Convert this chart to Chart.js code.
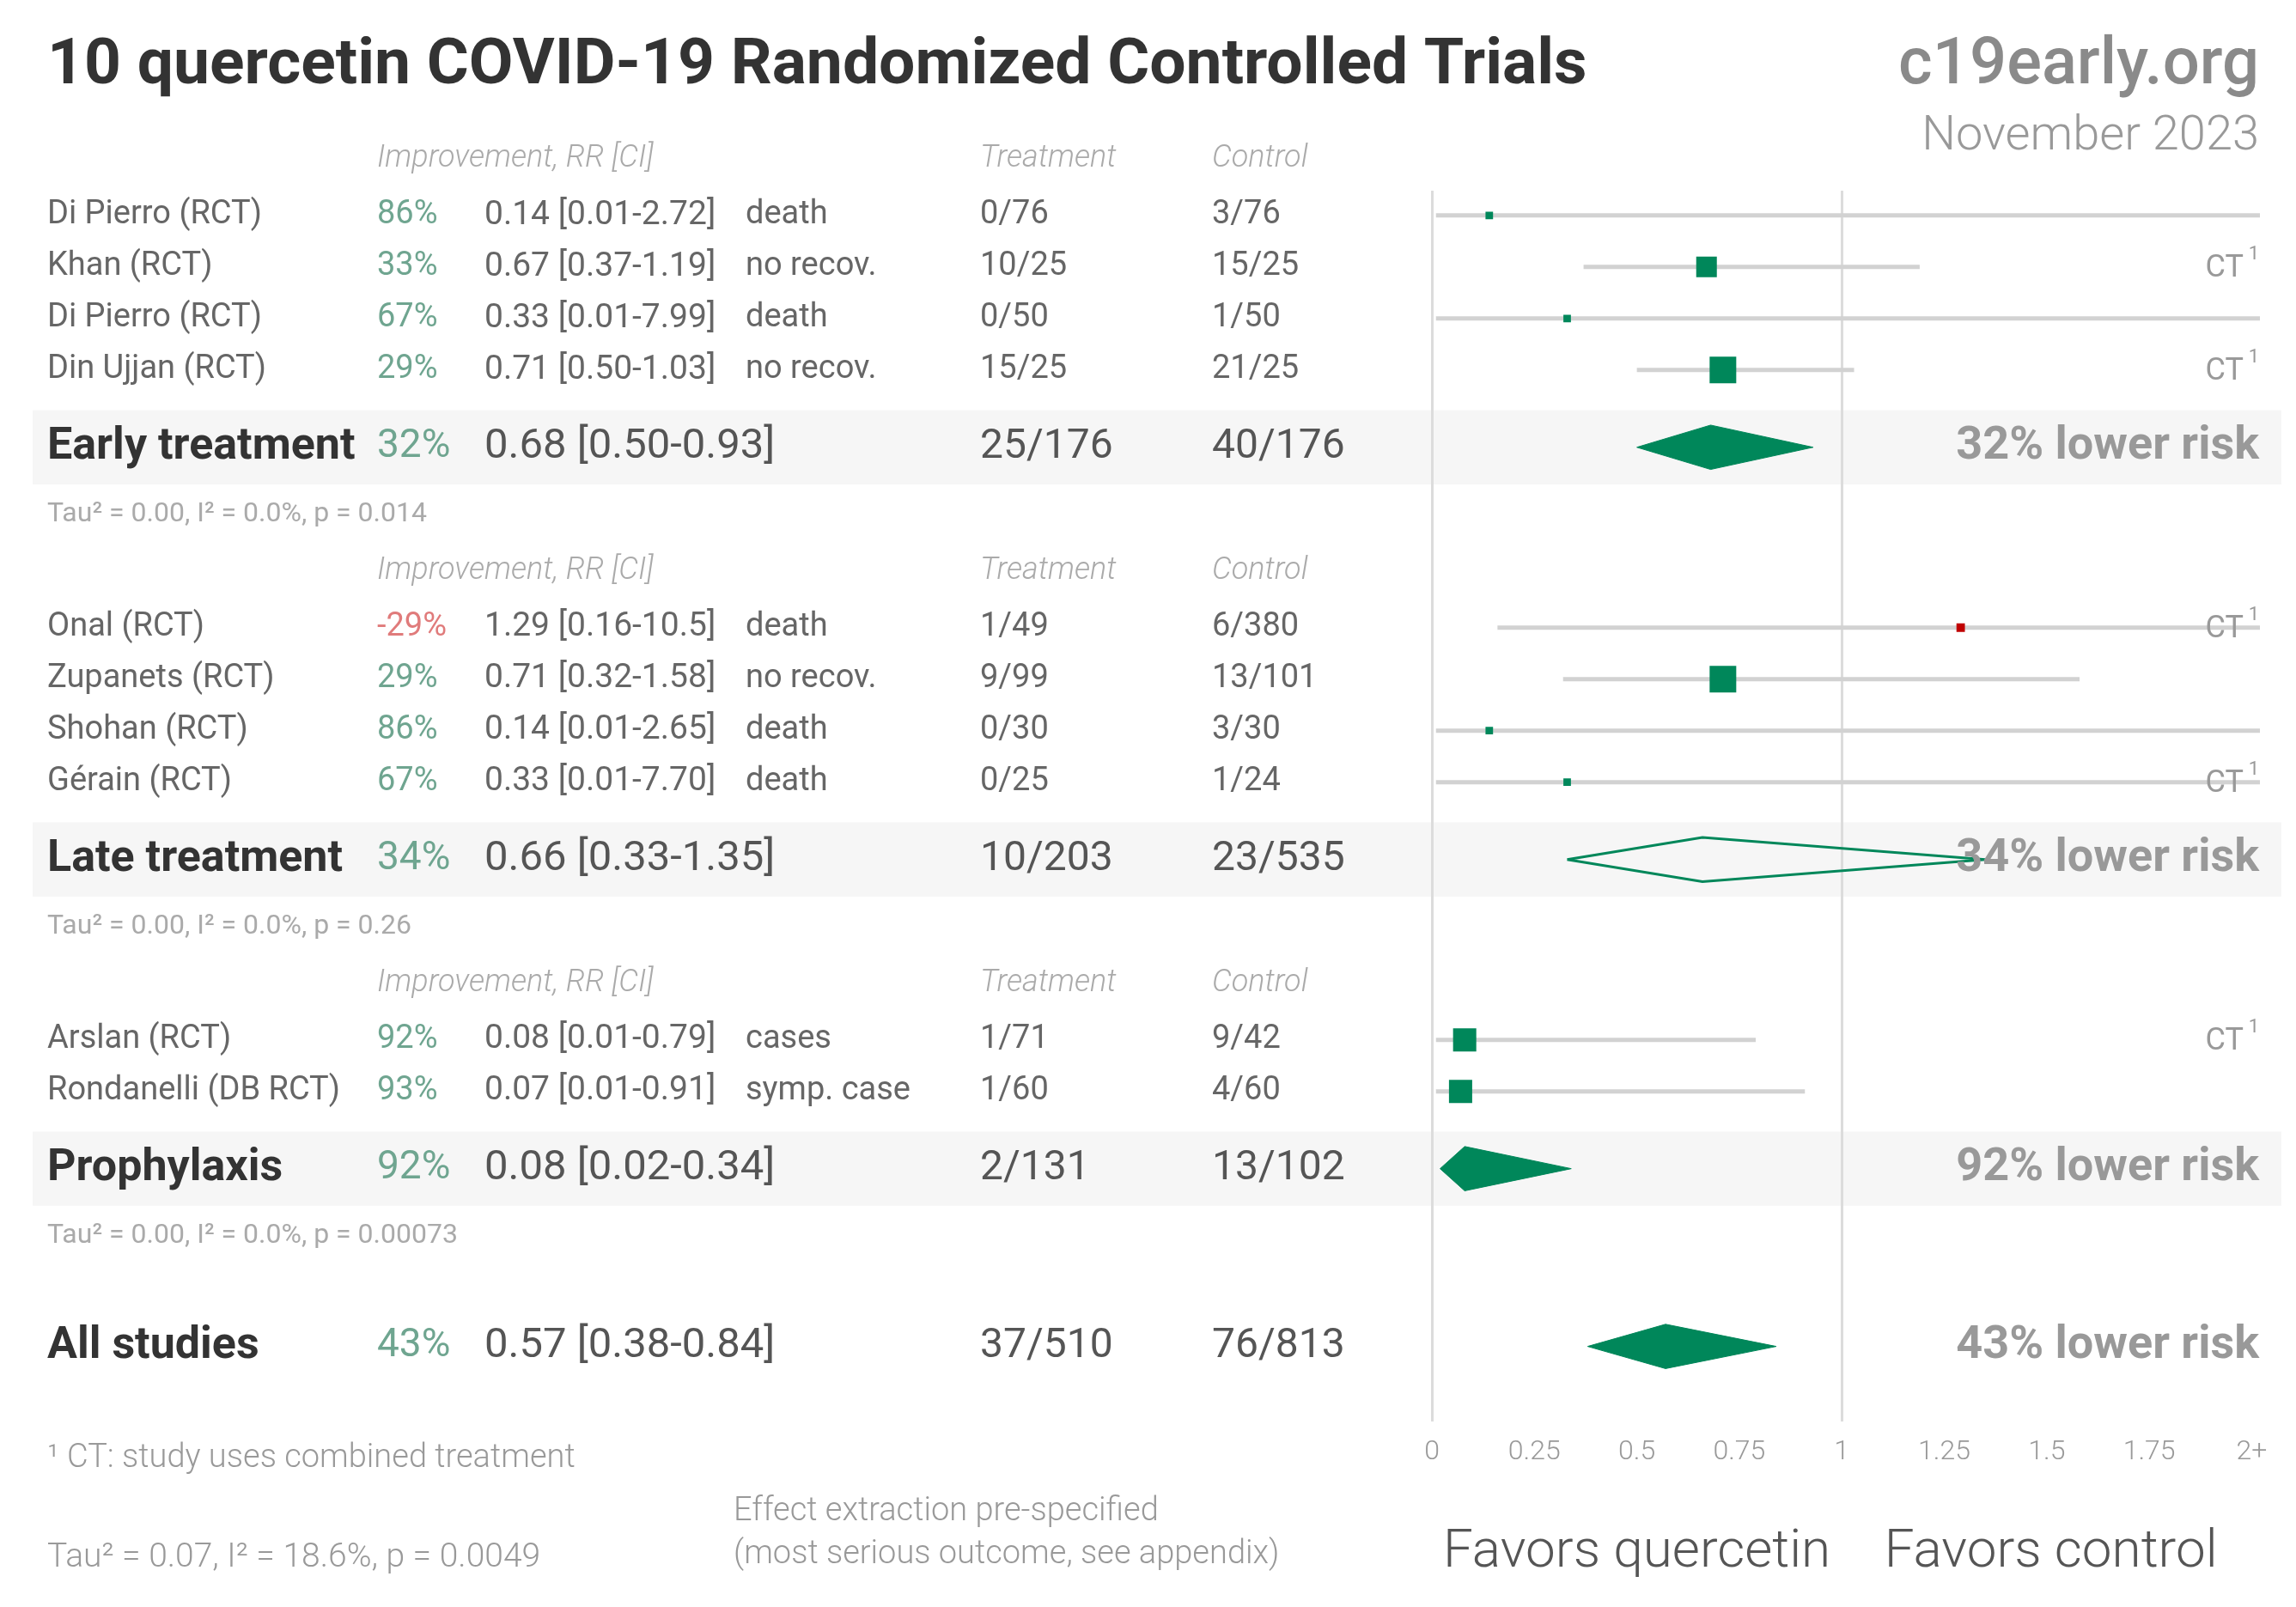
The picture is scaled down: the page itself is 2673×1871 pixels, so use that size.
<!DOCTYPE html>
<html>
<head>
<meta charset="utf-8">
<title>quercetin COVID-19 RCTs</title>
<script src="https://cdn.jsdelivr.net/npm/chart.js@4.4.0/dist/chart.umd.min.js"></script>
<style>
  html, body { margin: 0; padding: 0; background: #fff; }
  canvas { display: block; }
</style>
</head>
<body>
<canvas id="forest" width="2673" height="1871"></canvas>
<script>
//Study data
var studyNames = ['Di Pierro (RCT)', 'Khan (RCT)', 'Di Pierro (RCT)', 'Din Ujjan (RCT)', 'Onal (RCT)', 'Zupanets (RCT)', 'Shohan (RCT)', 'Gérain (RCT)', 'Arslan (RCT)', 'Rondanelli (DB RCT)'];
var studyStage = [0, 0, 0, 0, 1, 1, 1, 1, 2, 2];
var improvement = [86, 33, 67, 29, -29, 29, 86, 67, 92, 93];
var riskRatio = [0.14, 0.67, 0.33, 0.71, 1.29, 0.71, 0.14, 0.33, 0.08, 0.07];
var ciLow = [0.01, 0.37, 0.01, 0.50, 0.16, 0.32, 0.01, 0.01, 0.01, 0.01];
var ciHigh = [2.72, 1.19, 7.99, 1.03, 10.5, 1.58, 2.65, 7.70, 0.79, 0.91];
var outcomes = ['death', 'no recov.', 'death', 'no recov.', 'death', 'no recov.', 'death', 'death', 'cases', 'symp. case'];
var treatmentEvents = ['0/76', '10/25', '0/50', '15/25', '1/49', '9/99', '0/30', '0/25', '1/71', '1/60'];
var controlEvents = ['3/76', '15/25', '1/50', '21/25', '6/380', '13/101', '3/30', '1/24', '9/42', '4/60'];
var combinedTreatment = [false, true, false, true, true, false, false, true, true, false];
var studyWeight = [8, 60, 8, 100, 10, 100, 8, 8, 76, 76];

//Pooled results: early, late, prophylaxis, all
var groupNames = ['Early treatment', 'Late treatment', 'Prophylaxis', 'All studies'];
var groupImprovement = [32, 34, 92, 43];
var groupRR = [0.68, 0.66, 0.08, 0.57];
var groupLow = [0.50, 0.33, 0.02, 0.38];
var groupHigh = [0.93, 1.35, 0.34, 0.84];
var groupTreatment = ['25/176', '10/203', '2/131', '37/510'];
var groupControl = ['40/176', '23/535', '13/102', '76/813'];
var groupStats = ['Tau\u00B2 = 0.00, I\u00B2 = 0.0%, p = 0.014', 'Tau\u00B2 = 0.00, I\u00B2 = 0.0%, p = 0.26', 'Tau\u00B2 = 0.00, I\u00B2 = 0.0%, p = 0.00073'];
var overallStats = 'Tau\u00B2 = 0.07, I\u00B2 = 18.6%, p = 0.0049';

//Axis
var tickValues = [0, 0.25, 0.5, 0.75, 1, 1.25, 1.5, 1.75, 2];
var tickLabels = ['0', '0.25', '0.5', '0.75', '1', '1.25', '1.5', '1.75', '2+'];

//Colours
var green = '#00875a';
var red = '#c00000';
var font = 'Roboto, "Noto Sans", sans-serif';

//Row positions (in row units, top to bottom)
var rowY = [];
var headerY = [];
var groupY = [];
var statsY = [];
var pos = 0;
for (var g = 0; g < 3; g++) {
  headerY.push(pos);
  pos += 0.1;
  for (var i = 0; i < studyNames.length; i++) {
    if (studyStage[i] === g) {
      pos += 1;
      rowY[i] = pos;
    }
  }
  pos += 1.5;
  groupY.push(pos);
  pos += 1.3;
  statsY.push(pos);
  pos += 1.1;
}
groupY.push(statsY[2] + 2.15);

//Datasets (lower order is drawn on top)
var datasets = [];
var diamondHalf = 0.43;
for (var j = 0; j < groupNames.length; j++) {
  var hollow = groupHigh[j] > 1;
  datasets.push({
    type: 'line',
    order: 2,
    data: [
      {x: groupLow[j], y: groupY[j]},
      {x: groupRR[j], y: groupY[j] - diamondHalf},
      {x: groupHigh[j], y: groupY[j]},
      {x: groupRR[j], y: groupY[j] + diamondHalf},
      {x: groupLow[j], y: groupY[j]}
    ],
    borderColor: green,
    borderWidth: hollow ? 3 : 1,
    backgroundColor: hollow ? 'rgba(0,0,0,0)' : green,
    fill: hollow ? false : 'shape',
    pointRadius: 0,
    tension: 0
  });
}
for (var k = 0; k < studyNames.length; k++) {
  datasets.push({
    type: 'line',
    order: 3,
    data: [{x: ciLow[k], y: rowY[k]}, {x: ciHigh[k], y: rowY[k]}],
    borderColor: '#d2d2d2',
    borderWidth: 5,
    pointRadius: 0,
    fill: false
  });
}
datasets.push({
  type: 'scatter',
  order: 1,
  data: riskRatio.map(function(v, n) { return {x: v, y: rowY[n]}; }),
  pointStyle: 'rect',
  pointRadius: studyWeight.map(function(w) { return 31 * Math.sqrt(w / 100) / Math.SQRT2; }),
  backgroundColor: riskRatio.map(function(v) { return v > 1 ? red : green; }),
  borderWidth: 0
});

function txt(ctx, s, x, y, size, color, align, weight, style) {
  ctx.font = (style || 'normal') + ' ' + (weight || 400) + ' ' + size + 'px ' + font;
  ctx.fillStyle = color;
  ctx.textAlign = align || 'left';
  ctx.textBaseline = 'middle';
  ctx.fillText(s, x, y);
}

var bandPlugin = {
  id: 'bands',
  beforeDraw: function(chart) {
    var ctx = chart.ctx;
    var y = chart.scales.y;
    ctx.save();
    ctx.fillStyle = '#fff';
    ctx.fillRect(0, 0, chart.width, chart.height);
    ctx.fillStyle = '#f6f6f6';
    for (var b = 0; b < 3; b++) {
      var top = y.getPixelForValue(groupY[b] - 0.72);
      var bottom = y.getPixelForValue(groupY[b] + 0.72);
      ctx.fillRect(38, top, 2618, bottom - top);
    }
    ctx.restore();
  }
};

var tablePlugin = {
  id: 'table',
  afterDraw: function(chart) {
    var ctx = chart.ctx;
    var y = chart.scales.y;
    ctx.save();

    //Title block
    txt(ctx, '10 quercetin COVID-19 Randomized Controlled Trials', 55, 78, 75, '#333', 'left', 700);
    txt(ctx, 'c19early.org', 2630, 78, 76, '#8a8a8a', 'right', 500);
    txt(ctx, 'November 2023', 2630, 160, 56, '#999', 'right', 300);

    //Column headers
    for (var h = 0; h < headerY.length; h++) {
      var hy = y.getPixelForValue(headerY[h]);
      txt(ctx, 'Improvement, RR [CI]', 439, hy, 36, '#aaa', 'left', 300, 'italic');
      txt(ctx, 'Treatment', 1141, hy, 36, '#aaa', 'left', 300, 'italic');
      txt(ctx, 'Control', 1411, hy, 36, '#aaa', 'left', 300, 'italic');
    }

    //Study rows
    for (var i = 0; i < studyNames.length; i++) {
      var ry = y.getPixelForValue(rowY[i]);
      var rr = riskRatio[i].toFixed(2) + ' [' + ciLow[i].toFixed(2) + '-' + (ciHigh[i] >= 10 ? ciHigh[i].toFixed(1) : ciHigh[i].toFixed(2)) + ']';
      txt(ctx, studyNames[i], 55, ry, 38, '#666');
      txt(ctx, improvement[i] + '%', 439, ry, 38, improvement[i] < 0 ? '#e07b7b' : '#6fa590');
      txt(ctx, rr, 564, ry, 39, '#666');
      txt(ctx, outcomes[i], 868, ry, 38, '#666');
      txt(ctx, treatmentEvents[i], 1141, ry, 38, '#666');
      txt(ctx, controlEvents[i], 1411, ry, 38, '#666');
      if (combinedTreatment[i]) {
        txt(ctx, 'CT', 2612, ry + 2, 36, '#999', 'right');
        txt(ctx, '1', 2630, ry - 14, 22, '#999', 'right');
      }
    }

    //Pooled rows
    for (var g = 0; g < groupNames.length; g++) {
      var gy = y.getPixelForValue(groupY[g]);
      txt(ctx, groupNames[g], 55, gy, 52, '#333', 'left', 700);
      txt(ctx, groupImprovement[g] + '%', 439, gy, 46, '#6fa590');
      txt(ctx, groupRR[g].toFixed(2) + ' [' + groupLow[g].toFixed(2) + '-' + groupHigh[g].toFixed(2) + ']', 564, gy, 49, '#555');
      txt(ctx, groupTreatment[g], 1141, gy, 48, '#555');
      txt(ctx, groupControl[g], 1411, gy, 48, '#555');
      txt(ctx, groupImprovement[g] + '% lower risk', 2630, gy, 54, '#999', 'right', 700);
      if (g < 3) {
        txt(ctx, groupStats[g], 55, y.getPixelForValue(statsY[g]), 32, '#aaa');
      }
    }

    //Footer
    txt(ctx, '\u00B9 CT: study uses combined treatment', 55, 1698, 38, '#999', 'left', 300);
    txt(ctx, overallStats, 55, 1814, 39, '#999', 'left', 300);
    txt(ctx, 'Effect extraction pre-specified', 854, 1760, 38, '#999', 'left', 300);
    txt(ctx, '(most serious outcome, see appendix)', 854, 1810, 38, '#999', 'left', 300);

    var x = chart.scales.x;
    var mid0 = (x.getPixelForValue(0) + x.getPixelForValue(1)) / 2;
    var mid1 = (x.getPixelForValue(1) + x.right) / 2;
    txt(ctx, 'Favors quercetin', mid0, 1808, 62, '#555', 'center', 300);
    txt(ctx, 'Favors control', mid1, 1808, 62, '#555', 'center', 300);
    ctx.restore();
  }
};

var forestChart = new Chart(document.getElementById('forest').getContext('2d'), {
  type: 'scatter',
  data: {datasets: datasets},
  options: {
    responsive: false,
    animation: false,
    devicePixelRatio: 1,
    layout: {padding: {left: 1667, right: 42, top: 222, bottom: 144}},
    plugins: {legend: {display: false}, tooltip: {enabled: false}},
    scales: {
      x: {
        type: 'linear',
        min: 0,
        max: 2.02,
        border: {display: false},
        afterBuildTicks: function(scale) {
          scale.ticks = tickValues.map(function(v) { return {value: v}; });
        },
        grid: {
          drawTicks: false,
          lineWidth: 3,
          color: function(c) {
            return (c.tick && (c.tick.value === 0 || c.tick.value === 1)) ? '#dcdcdc' : 'rgba(0,0,0,0)';
          }
        },
        ticks: {
          padding: 17,
          color: '#999',
          font: {family: font, size: 32, weight: 300},
          callback: function(v, idx) { return tickLabels[idx]; }
        }
      },
      y: {
        type: 'linear',
        reverse: true,
        min: 0.62,
        max: 24.5,
        display: false
      }
    }
  },
  plugins: [bandPlugin, tablePlugin]
});
</script>
</body>
</html>
